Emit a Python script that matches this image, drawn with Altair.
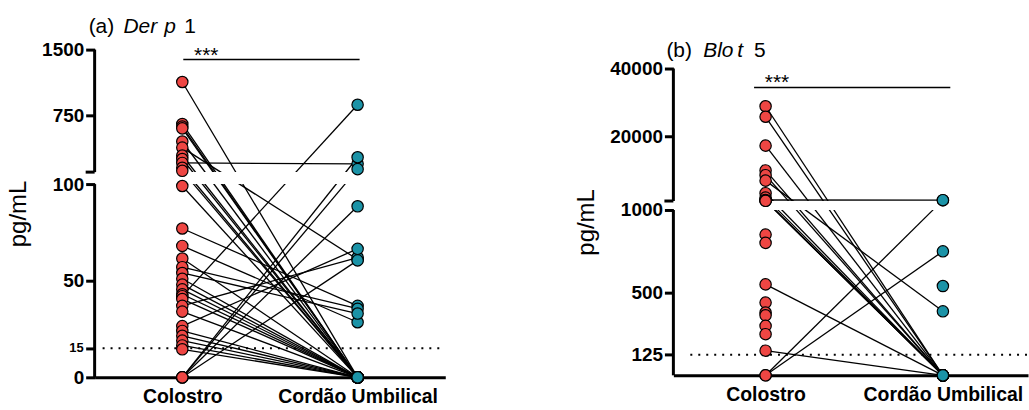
import altair as alt
import pandas as pd

FONT = "Liberation Sans"
GROUPS = ["Colostro", "Cordão Umbilical"]
COLORS = ["#EE4643", "#1B93A7"]

# (a) Der p 1 : paired values (colostrum, cord blood), pg/mL
colostro_a = [1130, 650, 620, 600, 450, 380, 290, 250, 205, 150, 115,
              99, 77, 68, 61.5, 57, 54, 51, 48, 45.5, 43, 42, 40.5, 37, 34,
              26.5, 24, 21.5, 19, 16.5, 14.5, 0, 0, 0, 0]
cordao_a = [0, 0, 0, 0, 0, 61, 0, 0, 195, 0, 0,
            0, 37, 28.5, 0, 35.5, 33, 0, 0, 0, 0, 870, 0, 62, 0,
            66.5, 0, 0, 0, 0, 0, 134, 88.5, 60.5, 270]

# (b) Blo t 5 : paired values (None = no pair)
colostro_b = [28900, 25800, 17300, 10000, 8600, 7000, 3300, 2000, 1300,
              1150, 1100, 1050, 550, 149, 0, 0,
              851, 801, 440, 380, 363, 299, 249, None]
cordao_b = [0, 0, 0, 0, 0, 387, 0, 0, 1250,
            0, 0, 0, 0, 0, 1250, 750,
            None, None, None, None, None, None, None, 540]

TICKS_A = [0, 15, 50, 100, 750, 1500]
TICKS_B = [125, 500, 1000, 20000, 40000]
SMALL_LABEL_A = 15


def long_table(col, cor):
    rows = []
    for i, (c, u) in enumerate(zip(col, cor)):
        if c is not None:
            rows.append({"pair": i, "group": GROUPS[0], "value": c})
        if u is not None:
            rows.append({"pair": i, "group": GROUPS[1], "value": u})
    return pd.DataFrame(rows)


def panel(col, cor, dom, rng, ticks, lod, width, height, p_out, align,
          title_parts, title_y, sig, dot_x0, small_label=None):
    df = long_table(col, cor)
    one = pd.DataFrame({"k": [0]})
    ysc = alt.Scale(domain=dom, range=rng, nice=False, zero=False)
    xsc = alt.Scale(type="point", domain=GROUPS, paddingOuter=p_out, align=align)
    label_expr = "format(datum.value, 'd')"
    if small_label is not None:
        label_expr = f"datum.value == {small_label} ? '' : format(datum.value, 'd')"
    yax = alt.Axis(values=ticks, domain=False, grid=False, tickSize=9, tickWidth=3,
                   tickColor="black", labelFont=FONT, labelFontSize=19,
                   labelExpr=label_expr,
                   labelFontWeight="bold", labelColor="black", labelPadding=2,
                   labelFlush=False, labelOverlap=False, labelBound=False,
                   title="pg/mL", titleFont=FONT, titleFontSize=24,
                   titleFontWeight="normal", titleColor="black", titlePadding=11)
    xax = alt.Axis(domain=True, domainWidth=3, domainColor="black", ticks=False,
                   labelFont=FONT, labelFontSize=19.5, labelFontWeight="bold",
                   labelColor="black", labelPadding=10, labelAngle=0, title=None,
                   grid=False)
    X = alt.X("group:N", scale=xsc, axis=xax, sort=GROUPS)
    Y = alt.Y("value:Q", scale=ysc, axis=yax)

    def yd(v):
        return alt.YDatum(v, title="pg/mL")

    lines = alt.Chart(df).mark_line(color="black", strokeWidth=1.3).encode(
        x=X, y=Y, detail="pair:N")
    gap = alt.Chart(one).mark_rect(color="white").encode(
        x=alt.value(2), x2=alt.value(width), y=yd(dom[1]), y2=alt.Y2Datum(dom[2]))
    dotted = alt.Chart(one).mark_rule(color="black", strokeWidth=2, strokeDash=[2, 6]).encode(
        x=alt.value(dot_x0), x2=alt.value(width), y=yd(lod))
    ax_lo = alt.Chart(one).mark_rule(color="black", strokeWidth=3).encode(
        x=alt.value(0), y=yd(0), y2=alt.Y2Datum(dom[1]))
    ax_hi = alt.Chart(one).mark_rule(color="black", strokeWidth=3).encode(
        x=alt.value(0), y=yd(dom[2]), y2=alt.Y2Datum(dom[3]))
    brk = alt.Chart(one).mark_rule(color="black", strokeWidth=3).encode(
        x=alt.value(-9), x2=alt.value(0), y=yd(dom[2]))
    pts = alt.Chart(df).mark_circle(size=130, stroke="black", strokeWidth=1.2, opacity=1).encode(
        x=X, y=Y,
        fill=alt.Fill("group:N", scale=alt.Scale(domain=GROUPS, range=COLORS), legend=None))
    sx0, sx1, sy, stx = sig
    sigline = alt.Chart(one).mark_rule(color="black", strokeWidth=1.5).encode(
        x=alt.value(sx0), x2=alt.value(sx1), y=alt.value(sy))
    stars = alt.Chart(one).mark_text(text="***", font=FONT, fontSize=21, color="black",
                                     align="center", baseline="alphabetic").encode(
        x=alt.value(stx), y=alt.value(sy + 2))
    layers = [lines, gap, dotted, ax_lo, ax_hi, brk, pts, sigline, stars]
    if small_label is not None:
        layers.append(alt.Chart(one).mark_text(text=str(small_label), font=FONT, fontSize=13,
                                               fontWeight="bold", color="black", align="right",
                                               baseline="middle").encode(
            x=alt.value(-11), y=yd(small_label)))
    for txt, tx, style in title_parts:
        layers.append(alt.Chart(one).mark_text(text=txt, font=FONT, fontSize=21, fontStyle=style,
                                               color="black", align="left",
                                               baseline="alphabetic").encode(
            x=alt.value(tx), y=alt.value(title_y)))
    return alt.layer(*layers).properties(width=width, height=height)


pa = panel(colostro_a, cordao_a, [0, 100, 100.001, 1500], [329, 135, 123, 0], TICKS_A, 15,
           352, 329, 0.5, 0.5,
           [("(a)", -6, "normal"), ("Der", 29, "italic"), ("p", 70, "italic"), ("1", 90, "normal")],
           -17, (89, 266, 10, 112), 8, small_label=SMALL_LABEL_A)
pb = panel(colostro_b, cordao_b, [0, 1000, 1000.01, 40000], [327, 161, 152, 19], TICKS_B, 125,
           356, 327, 0.483, 0.52,
           [("(b)", -7, "normal"), ("Blo", 30, "italic"), ("t", 64, "italic"), ("5", 81, "normal")],
           7, (81, 278, 38, 104), 17)

chart = alt.hconcat(pa, pb, spacing=129).properties(
    padding={"left": 6, "top": 15, "right": 0, "bottom": 0}
).configure_view(stroke=None)

chart.save("out.html", embed_options={"renderer": "svg", "actions": False})
